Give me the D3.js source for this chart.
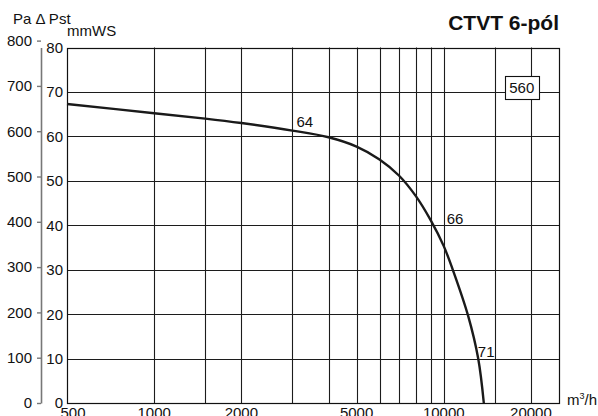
<!DOCTYPE html>
<html lang="pl">
<head>
<meta charset="UTF-8">
<title>CTVT 6-pól</title>
<script src="https://cdn.jsdelivr.net/npm/d3@7"></script>
<style>
  body { margin: 0; background: #fff; }
  text { font-family: "Liberation Sans", Arial, Helvetica, sans-serif; fill: #111; }
</style>
</head>
<body>
<div id="container"></div>
<script>
    const width = 598;
    const height = 416;

    // curve: volume flow (m3/h) vs static pressure (mmWS)
    const flow = [500, 1000, 1500, 2000, 3000, 4000, 5000, 6000, 7000, 8000, 9000, 10000, 10770, 12140, 13150, 13750];
    const pressure = [67.3, 65.2, 64.0, 63.0, 61.3, 59.8, 57.7, 54.8, 51.2, 46.6, 41.2, 35.3, 29.8, 19.6, 10, 0];

    // grid / ticks
    const xGrid = [1000, 1500, 2000, 3000, 4000, 5000, 6000, 7000, 8000, 9000, 10000, 15000, 20000];
    const xTickLabels = [500, 1000, 2000, 5000, 10000, 20000];
    const mmTicks = [0, 10, 20, 30, 40, 50, 60, 70, 80];
    const paTicks = [0, 100, 200, 300, 400, 500, 600, 700, 800];

    // annotations along the curve (flow, mmWS)
    const speedLabels = [
        { text: '64', flow: 3100, val: 62.2 },
        { text: '66', flow: 10240, val: 40.3 },
        { text: '71', flow: 13110, val: 10.3 }
    ];
    const sizeLabel = { text: '560', flow: 18600, val: 70.9 };

    const x = d3.scaleLog().domain([500, 25000]).range([67, 559]);
    const y = d3.scaleLinear().domain([0, 80]).range([403, 47.5]);
    const yPa = d3.scaleLinear().domain([0, 80 * 9.81]).range([403, 47.5]);

    const svg = d3.select('#container').append('svg')
        .attr('width', width)
        .attr('height', height);

    // grid
    const grid = svg.append('g').attr('stroke', '#1c1c1c').attr('stroke-width', 1.1);
    grid.selectAll('.vg')
        .data(xGrid)
        .join('line')
        .attr('x1', d => Math.round(x(d)) + 0.5)
        .attr('x2', d => Math.round(x(d)) + 0.5)
        .attr('y1', y(0))
        .attr('y2', y(80));
    grid.selectAll('.hg')
        .data(mmTicks.slice(1, -1))
        .join('line')
        .attr('x1', x(500))
        .attr('x2', x(25000))
        .attr('y1', d => Math.round(y(d)) + 0.5)
        .attr('y2', d => Math.round(y(d)) + 0.5);

    // frame
    svg.append('rect')
        .attr('x', Math.round(x(500)) + 0.5)
        .attr('y', Math.round(y(80)) + 0.5)
        .attr('width', Math.round(x(25000)) - Math.round(x(500)))
        .attr('height', Math.round(y(0)) - Math.round(y(80)))
        .attr('fill', 'none')
        .attr('stroke', '#111')
        .attr('stroke-width', 1.2);

    // curve
    const line = d3.line()
        .x(d => x(d[0]))
        .y(d => y(d[1]))
        .curve(d3.curveCatmullRom.alpha(0.5));
    svg.append('path')
        .datum(flow.map((f, i) => [f, pressure[i]]))
        .attr('d', line)
        .attr('fill', 'none')
        .attr('stroke', '#1a1a1a')
        .attr('stroke-width', 2.4);

    // mmWS labels
    svg.append('g')
        .attr('font-size', 15)
        .attr('text-anchor', 'end')
        .selectAll('text')
        .data(mmTicks)
        .join('text')
        .attr('x', 63)
        .attr('y', d => y(d))
        .attr('dy', '0.36em')
        .text(d => d);

    // Pa axis
    const paAxis = svg.append('g')
        .attr('transform', 'translate(41,0)')
        .call(d3.axisLeft(yPa).tickValues(paTicks).tickSize(4).tickSizeOuter(0).tickPadding(5));
    paAxis.select('.domain').attr('stroke', '#777').attr('stroke-width', 1.6);
    paAxis.selectAll('.tick line').attr('stroke', '#777').attr('stroke-width', 1.4);
    paAxis.selectAll('.tick text')
        .attr('font-size', 15)
        .attr('font-family', '"Liberation Sans", Arial, sans-serif')
        .attr('fill', '#111');

    // x labels
    svg.append('g')
        .attr('font-size', 15)
        .attr('text-anchor', 'middle')
        .selectAll('text')
        .data(xTickLabels)
        .join('text')
        .attr('x', d => x(d))
        .attr('dx', (d, i) => i === 0 ? 6 : 0)
        .attr('y', 417.5)
        .text(d => d);

    // axis titles
    svg.append('text').attr('x', 13).attr('y', 24).attr('font-size', 15).text('Pa \u0394 Pst');
    svg.append('text').attr('x', 67).attr('y', 36).attr('font-size', 15).text('mmWS');
    svg.append('text').attr('x', 567).attr('y', 405).attr('font-size', 15)
        .call(t => t.append('tspan').text('m'))
        .call(t => t.append('tspan').attr('font-size', 9).attr('dy', -6).text('3'))
        .call(t => t.append('tspan').attr('dy', 6).text('/h'));

    // title
    svg.append('text')
        .attr('x', 559)
        .attr('y', 30)
        .attr('text-anchor', 'end')
        .attr('font-size', 21)
        .attr('font-weight', 'bold')
        .text('CTVT 6-pól');

    // speed labels
    svg.append('g')
        .attr('font-size', 15)
        .selectAll('text')
        .data(speedLabels)
        .join('text')
        .attr('x', d => x(d.flow))
        .attr('y', d => y(d.val))
        .text(d => d.text);

    // size box
    const cx = x(sizeLabel.flow), cy = y(sizeLabel.val);
    svg.append('rect')
        .attr('x', Math.round(cx - 17) + 0.5)
        .attr('y', Math.round(cy - 11.5) + 0.5)
        .attr('width', 34)
        .attr('height', 23)
        .attr('fill', '#fff')
        .attr('stroke', '#111')
        .attr('stroke-width', 1.1);
    svg.append('text')
        .attr('x', cx)
        .attr('y', cy)
        .attr('dy', '0.36em')
        .attr('text-anchor', 'middle')
        .attr('font-size', 15)
        .text(sizeLabel.text);
</script>
</body>
</html>
